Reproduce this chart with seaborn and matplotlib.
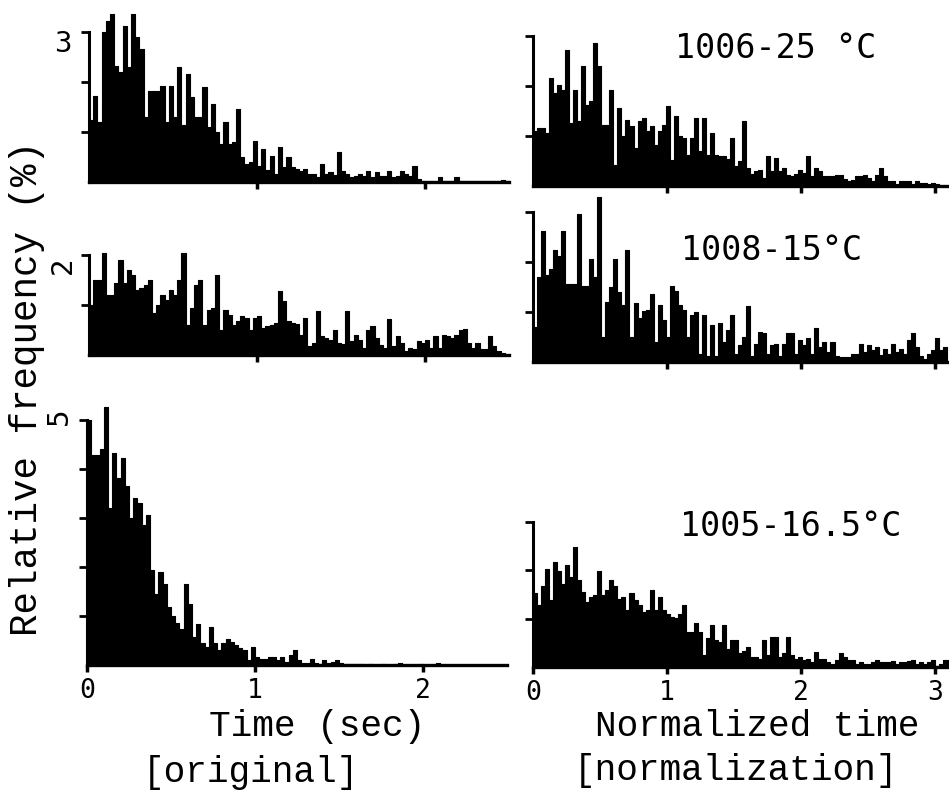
import numpy as np
import pandas as pd
import matplotlib
matplotlib.use("Agg")
import matplotlib.pyplot as plt
import seaborn as sns

# ---------------- data (relative frequency, %) ----------------
BW_ORIG = 0.025   # bin width, seconds
BW_NORM = 0.03    # bin width, normalized time

orig_1006 = [1.25, 1.73, 1.2, 3.0, 3.23, 3.37, 2.33, 2.2, 3.13, 2.3, 3.37, 2.9, 2.67, 1.3, 1.83,
             1.83, 1.83, 1.93, 1.2, 1.93, 1.3, 2.3, 1.15, 2.17, 1.7, 1.3, 1.3, 1.91, 1.1, 1.57,
             1.0, 0.77, 1.2, 0.77, 0.8, 1.47, 0.5, 0.37, 0.4, 0.83, 0.33, 0.67, 0.25, 0.53, 0.17,
             0.7, 0.3, 0.5, 0.3, 0.27, 0.23, 0.27, 0.17, 0.17, 0.1, 0.37, 0.17, 0.2, 0.15, 0.6,
             0.23, 0.17, 0.1, 0.12, 0.17, 0.13, 0.23, 0.1, 0.2, 0.12, 0.13, 0.23, 0.1, 0.12, 0.23,
             0.17, 0.13, 0.33, 0.07, 0.03, 0.0, 0.03, 0.0, 0.1, 0.03, 0.02, 0.02, 0.1, 0.02, 0.02,
             0.02, 0.02, 0.02, 0.02, 0.02, 0.02, 0.02, 0.02, 0.04, 0.02]

norm_1006 = [1.1, 1.17, 1.17, 1.07, 2.17, 1.87, 2.03, 1.93, 2.73, 1.27, 1.93, 1.3, 2.4, 1.63, 1.7,
             2.87, 2.4, 1.23, 1.23, 1.93, 0.43, 1.57, 1.0, 1.33, 1.2, 0.77, 1.3, 1.37, 1.1, 1.2,
             0.83, 1.1, 1.23, 1.6, 0.53, 1.4, 1.0, 0.97, 0.63, 0.97, 1.37, 0.7, 1.37, 0.63, 1.07,
             0.63, 0.6, 0.6, 0.55, 0.97, 0.4, 0.5, 1.3, 0.37, 0.25, 0.3, 0.33, 0.17, 0.6, 0.3,
             0.57, 0.3, 0.37, 0.23, 0.2, 0.25, 0.33, 0.27, 0.6, 0.2, 0.37, 0.3, 0.2, 0.2, 0.2,
             0.23, 0.23, 0.15, 0.1, 0.13, 0.2, 0.2, 0.23, 0.17, 0.1, 0.23, 0.37, 0.2, 0.1, 0.1,
             0.05, 0.1, 0.1, 0.1, 0.05, 0.1, 0.07, 0.07, 0.05, 0.07, 0.05]

orig_1008 = [1.0, 1.5, 1.5, 2.05, 1.2, 1.2, 1.45, 1.9, 1.45, 1.7, 1.6, 1.3, 1.35, 1.4, 1.5,
             0.85, 1.0, 1.2, 1.1, 1.3, 1.2, 1.5, 2.05, 0.6, 0.95, 1.4, 1.5, 0.6, 0.9, 0.95,
             1.6, 0.5, 0.9, 0.8, 0.6, 0.68, 0.78, 0.75, 0.5, 0.75, 0.78, 0.55, 0.58, 0.6, 0.65,
             1.28, 1.08, 0.68, 0.65, 0.62, 0.4, 0.75, 0.18, 0.25, 0.88, 0.38, 0.35, 0.3, 0.5, 0.25,
             0.22, 0.88, 0.28, 0.4, 0.3, 0.15, 0.5, 0.58, 0.35, 0.2, 0.15, 0.72, 0.18, 0.38, 0.25,
             0.08, 0.15, 0.12, 0.28, 0.25, 0.3, 0.15, 0.38, 0.15, 0.4, 0.38, 0.35, 0.4, 0.5, 0.52,
             0.25, 0.15, 0.25, 0.12, 0.12, 0.38, 0.18, 0.08, 0.05]

norm_1008 = [0.7, 1.7, 2.62, 1.75, 1.86, 2.24, 2.13, 2.62, 1.56, 1.56, 1.56, 2.96, 1.53, 1.53, 2.07,
             1.7, 3.3, 0.5, 1.2, 1.5, 2.07, 1.4, 1.15, 2.24, 0.5, 1.18, 0.88, 1.02, 1.05, 1.36,
             0.4, 1.15, 0.85, 0.5, 1.53, 1.43, 1.15, 1.05, 0.5, 0.95, 1.0, 0.17, 0.95, 0.13, 0.75,
             0.13, 0.78, 0.4, 0.65, 0.95, 0.17, 0.35, 0.5, 1.12, 0.13, 0.37, 0.6, 0.58, 0.17, 0.35,
             0.37, 0.13, 0.37, 0.58, 0.58, 0.17, 0.44, 0.34, 0.48, 0.17, 0.68, 0.3, 0.4, 0.2, 0.4,
             0.13, 0.1, 0.1, 0.1, 0.17, 0.17, 0.37, 0.2, 0.34, 0.24, 0.3, 0.14, 0.27, 0.17, 0.37,
             0.2, 0.27, 0.17, 0.44, 0.58, 0.3, 0.13, 0.07, 0.17, 0.24, 0.48, 0.24, 0.3]

orig_1005 = [5.0, 4.29, 4.29, 4.4, 5.27, 3.2, 4.32, 3.82, 4.22, 3.65, 3.0, 3.41, 3.3, 2.85, 3.07,
             1.93, 1.45, 1.89, 1.65, 1.18, 1.0, 0.85, 0.74, 1.66, 1.25, 0.57, 0.84, 0.44, 0.37, 0.78,
             0.44, 0.3, 0.44, 0.54, 0.47, 0.4, 0.34, 0.3, 0.1, 0.37, 0.17, 0.13, 0.13, 0.17, 0.17,
             0.1, 0.17, 0.07, 0.2, 0.3, 0.1, 0.05, 0.05, 0.13, 0.05, 0.03, 0.1, 0.05, 0.07, 0.1,
             0.05, 0.03, 0.03, 0.02, 0.02, 0.02, 0.01, 0.02, 0.01, 0.01, 0.02, 0.01, 0.01, 0.02, 0.04,
             0.01, 0.01, 0.01, 0.01, 0.02, 0.01, 0.01, 0.01, 0.04, 0.01, 0.01, 0.01, 0.01, 0.01, 0.01,
             0.01, 0.01, 0.01, 0.01, 0.01, 0.01, 0.01, 0.01, 0.01]

norm_1005 = [1.52, 1.28, 1.66, 2.03, 1.38, 2.17, 1.97, 1.72, 2.1, 1.86, 2.48, 1.79, 1.55, 1.35, 1.45,
             1.48, 1.97, 1.48, 1.58, 1.79, 1.66, 1.41, 1.45, 1.17, 1.52, 1.38, 1.28, 1.14, 1.17, 1.59,
             1.17, 1.45, 1.17, 1.1, 1.03, 1.0, 1.1, 1.28, 0.72, 0.72, 0.9, 0.72, 0.24, 0.59, 0.86,
             0.55, 0.52, 0.86, 0.38, 0.55, 0.55, 0.28, 0.34, 0.41, 0.21, 0.21, 0.17, 0.55, 0.24, 0.62,
             0.62, 0.21, 0.28, 0.62, 0.24, 0.17, 0.21, 0.14, 0.17, 0.1, 0.31, 0.17, 0.17, 0.1, 0.07,
             0.14, 0.28, 0.21, 0.14, 0.14, 0.07, 0.1, 0.07, 0.07, 0.1, 0.14, 0.1, 0.1, 0.1, 0.12,
             0.07, 0.1, 0.1, 0.12, 0.14, 0.07, 0.1, 0.07, 0.1, 0.14, 0.03, 0.07, 0.14, 0.14]

panel_labels = ["1006-25 °C", "1008-15°C", "1005-16.5°C"]
orig_ticks = [0, 1, 2]
norm_ticks = [0, 1, 2, 3]

# ---------------- figure ----------------
sns.set_style("ticks")
plt.rcParams["font.family"] = ["DejaVu Sans Mono", "DejaVu Sans"]
plt.rcParams.update({"text.color": "black", "axes.edgecolor": "black",
                     "xtick.color": "black", "ytick.color": "black",
                     "axes.labelcolor": "black"})

W, H = 949, 793
fig = plt.figure(figsize=(W / 100, H / 100), dpi=100)


def make_axes(x0, xmax, pxx, base, ymax, pxy):
    w = xmax * pxx
    h = ymax * pxy
    ax = fig.add_axes([x0 / W, 1 - base / H, w / W, h / H])
    ax.set_xlim(0, xmax)
    ax.set_ylim(0, ymax)
    return ax


def draw(ax, vals, bw, top, xticks, show_xlabels, xmax):
    n = len(vals)
    centres = (np.arange(n) + 0.5) * bw
    df = pd.DataFrame({"t": centres, "f": np.asarray(vals, dtype=float)})
    sns.histplot(data=df, x="t", weights="f", binwidth=bw, binrange=(0, n * bw),
                 element="step", fill=True, color="black", alpha=1, linewidth=0.8,
                 edgecolor="black", ax=ax)
    ax.set_xlim(0, xmax)
    ax.set_xlabel("")
    ax.set_ylabel("")
    ax.patch.set_alpha(0)
    for s in ["top", "right"]:
        ax.spines[s].set_visible(False)
    ax.spines["left"].set_bounds(0, top)
    ax.spines["left"].set_linewidth(2.2)
    ax.spines["bottom"].set_linewidth(2.4)
    ax.set_yticks(range(1, top + 1))
    ax.set_yticklabels([])
    ax.tick_params(axis="y", direction="out", length=6, width=2, color="black")
    ax.set_xticks(xticks)
    ax.tick_params(axis="x", direction="out", length=5, width=2.5, pad=4,
                   labelsize=19, labelcolor="black", color="black")
    if show_xlabels:
        ax.set_xticklabels([str(t) for t in xticks])
    else:
        ax.set_xticklabels([])


# pixel geometry
LX0, LPX, LXMAX = 89, 168, 2.5
RX0, RPX, RXMAX = 533, 134, 3.1

ax1 = make_axes(LX0, LXMAX, LPX, 182, 3.6, 50)
draw(ax1, orig_1006, BW_ORIG, 3, [1, 2], False, LXMAX)
ax2 = make_axes(RX0, RXMAX, RPX, 186, 3.6, 50)
draw(ax2, norm_1006, BW_NORM, 3, [1, 2, 3], False, RXMAX)

ax3 = make_axes(LX0, LXMAX, LPX, 355, 2.3, 50)
draw(ax3, orig_1008, BW_ORIG, 2, [1, 2], False, LXMAX)
ax4 = make_axes(RX0, RXMAX, RPX, 362, 3.5, 50)
draw(ax4, norm_1008, BW_NORM, 3, [1, 2, 3], False, RXMAX)

ax5 = make_axes(87, LXMAX, LPX, 665, 5.5, 49)
draw(ax5, orig_1005, BW_ORIG, 5, orig_ticks, True, LXMAX)
ax6 = make_axes(RX0, RXMAX, RPX, 667, 3.2, 48.5)
draw(ax6, norm_1005, BW_NORM, 3, norm_ticks, True, RXMAX)


def ftext(x, y, s, **kw):
    fig.text(x / W, 1 - y / H, s, ha="center", va="center", color="black", **kw)


# y-axis top values
ftext(63, 44, "3", fontsize=21)
ftext(63, 265, "2", fontsize=21, rotation=90)
ftext(59, 416, "5", fontsize=21, rotation=90)

# panel labels
ftext(776, 48, panel_labels[0], fontsize=24)
ftext(772, 251, panel_labels[1], fontsize=24)
ftext(791, 527, panel_labels[2], fontsize=24)

# axis labels
mono = dict(family=["Liberation Mono", "DejaVu Sans Mono"], fontsize=26)
ftext(27, 388, "Relative frequency (%)", rotation=90,
      family=["Liberation Mono", "DejaVu Sans Mono"], fontsize=27)
ftext(317, 727, "Time (sec)", **mono)
ftext(251, 772, "[original]", **mono)
ftext(757, 727, "Normalized time", **mono)
ftext(736, 771, "[normalization]", **mono)

fig.savefig("out.png", dpi=100)
